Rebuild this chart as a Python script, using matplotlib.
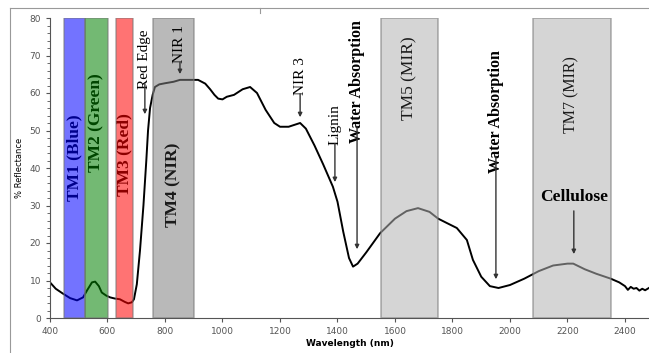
#libraries
import matplotlib
matplotlib.use("Agg")
import matplotlib.pyplot as plt
from matplotlib.lines import Line2D
from matplotlib.ticker import MultipleLocator

#spectrum
wavelength = [400, 420, 445, 470, 494, 515, 530, 546, 557, 570, 580, 595, 609, 625, 643, 660, 672,
              685, 692, 702, 713, 725, 735, 741, 748, 757, 765, 780, 800, 830, 852, 880, 915, 940,
              957, 972, 985, 1000, 1015, 1040, 1070, 1096, 1120, 1150, 1180, 1200, 1230, 1270, 1290,
              1320, 1350, 1384, 1400, 1420, 1440, 1454, 1470, 1500, 1548, 1600, 1640, 1680, 1720,
              1750, 1781, 1815, 1850, 1871, 1900, 1930, 1960, 2000, 2050, 2100, 2150, 2200, 2220,
              2260, 2300, 2350, 2380, 2400, 2410, 2420, 2430, 2440, 2450, 2460, 2470, 2483]
reflectance = [9.5, 7.8, 6.5, 5.3, 4.7, 5.5, 7.5, 9.5, 9.7, 8.5, 6.8, 6.0, 5.5, 5.2, 5.0, 4.3, 3.9,
               4.2, 5.0, 9, 18, 30, 42, 50, 56, 59.5, 61.6, 62.3, 62.6, 63, 63.5, 63.5, 63.5, 62.5,
               61, 59.5, 58.5, 58.3, 59, 59.5, 61, 61.6, 60, 55.5, 52, 51, 51, 52, 50.5,
               46, 41, 35, 31, 23, 16, 13.7, 14.5, 17.5, 22.6, 26.5, 28.5, 29.3, 28.3,
               26.5, 25.3, 24, 20.8, 15.5, 11, 8.5, 8, 8.8, 10.5, 12.5, 14, 14.5, 14.5,
               13, 11.8, 10.5, 9.5, 8.5, 7.5, 8.3, 7.8, 8, 7.3, 7.8, 7.4, 8]

#landsat TM bands
band_names = ["TM1 (Blue)", "TM2 (Green)", "TM3 (Red)", "TM4 (NIR)", "TM5 (MIR)", "TM7 (MIR)"]
band_start = [450, 520, 630, 760, 1550, 2080]
band_end = [520, 600, 690, 900, 1750, 2350]
band_colors = ["#0000ff", "#008000", "#ff0000", "#808080", "#b4b4b4", "#b4b4b4"]
band_label_y = [42.7, 52, 43.5, 35.5, 64, 59.5]
band_label_size = [12.5, 12.5, 12.5, 12.5, 12.5, 11.5]
band_label_weight = ["bold", "bold", "bold", "bold", "normal", "normal"]
band_label_on_top = [False, False, False, True, True, True]

#feature labels (text, x, text top, arrow tip, size, weight)
feat_names = ["Red Edge", "NIR 1", "NIR 3", "Lignin", "Water Absorption", "Water Absorption"]
feat_x = [730, 852, 1270, 1391, 1468, 1951]
feat_top = [77, 78, 69.6, 57, 79.5, 71.5]
feat_tip = [53.6, 64.3, 52.8, 35.5, 17.6, 9.6]
feat_size = [11, 11, 11, 11, 11.5, 11.5]
feat_weight = ["normal", "normal", "normal", "normal", "bold", "bold"]

serif = ["Liberation Serif", "DejaVu Serif"]

fig = plt.figure(figsize=(6.49, 3.53), dpi=100)
ax = fig.add_axes([50 / 649, 1 - 318 / 353, 1 - 50 / 649, 300 / 353])

ax.plot(wavelength, reflectance, color="black", lw=1.4, zorder=2)

for name, s, e, c, y, fs, fw, top in zip(band_names, band_start, band_end, band_colors,
                                         band_label_y, band_label_size, band_label_weight,
                                         band_label_on_top):
    ax.axvspan(s, e, facecolor=c, alpha=0.55, edgecolor="#777777", lw=1.2, zorder=3)
    ax.text((s + e) / 2, y, name, rotation=90, ha="center", va="center", fontsize=fs,
            fontweight=fw, family=serif, color="#1a1a1a" if top else "black",
            zorder=4 if top else 2)

for name, x, top, tip, fs, fw in zip(feat_names, feat_x, feat_top, feat_tip, feat_size, feat_weight):
    t = ax.text(x, top, name, rotation=90, ha="center", va="top", fontsize=fs,
                fontweight=fw, family=serif, zorder=5)
    fig.canvas.draw()
    bb = t.get_window_extent().transformed(ax.transData.inverted())
    ax.annotate("", xy=(x, tip), xytext=(x, bb.y0 - 0.8),
                arrowprops=dict(arrowstyle="-|>", color="#333333", lw=1.0, mutation_scale=6),
                zorder=5)

ax.text(2222, 32.3, "Cellulose", ha="center", va="center", fontsize=12.5, fontweight="bold",
        family=serif, zorder=5)
ax.annotate("", xy=(2222, 16.3), xytext=(2222, 29.3),
            arrowprops=dict(arrowstyle="-|>", color="#333333", lw=1.0, mutation_scale=6), zorder=5)

ax.set_xlim(400, 400 + 599 / 0.2875)
ax.set_ylim(0, 80)
ax.set_xticks(range(400, 2500, 200))
ax.set_yticks(range(0, 81, 10))
ax.yaxis.set_minor_locator(MultipleLocator(2))
ax.tick_params(labelsize=6.5, labelcolor="#555555", color="#555555", length=3)
ax.tick_params(which="minor", length=2, color="#555555")
for side in ["top", "right"]:
    ax.spines[side].set_visible(False)
for side in ["left", "bottom"]:
    ax.spines[side].set_color("#555555")
ax.set_xlabel("Wavelength (nm)", fontsize=6.5, fontweight="bold", labelpad=2)
ax.set_ylabel("% Reflectance", fontsize=6, labelpad=4)

#outer frame of the original picture
fig.add_artist(Line2D([10 / 649, 1], [1 - 8 / 353, 1 - 8 / 353], color="#999999", lw=0.8))
fig.add_artist(Line2D([10 / 649, 10 / 649], [0, 1 - 8 / 353], color="#999999", lw=0.8))
fig.add_artist(Line2D([260 / 649, 260 / 649], [1 - 8 / 353, 1 - 13 / 353], color="#999999", lw=0.8))

plt.savefig("out.png", dpi=100)
